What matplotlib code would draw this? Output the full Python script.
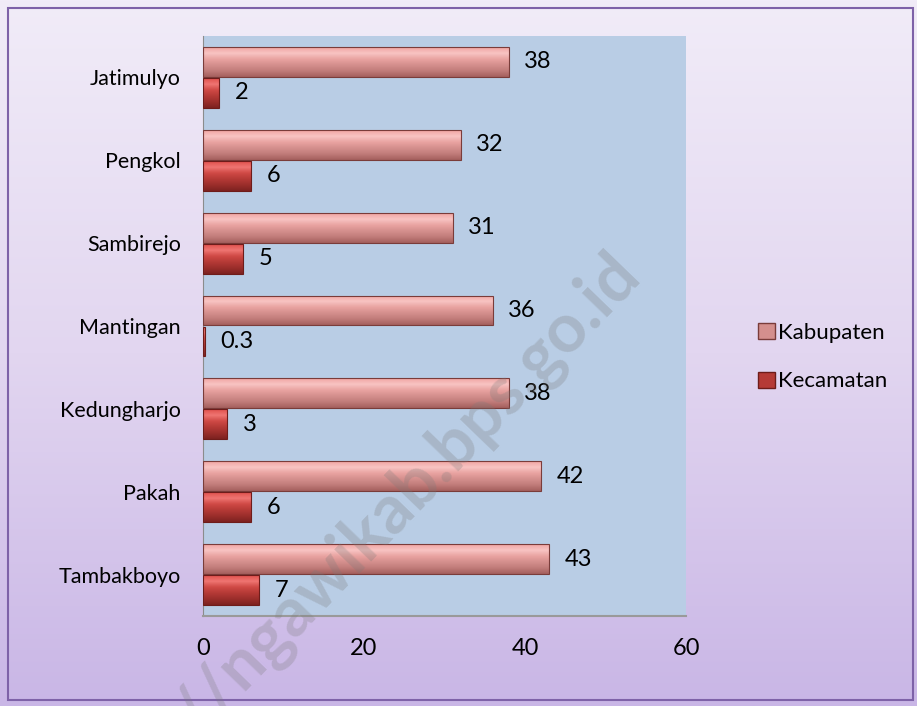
import numpy as np
import matplotlib.pyplot as plt
from matplotlib.colors import LinearSegmentedColormap
from matplotlib.patches import Patch, Rectangle

plt.rcParams['font.family'] = ['Lato', 'DejaVu Sans']

# data (bottom to top)
desa = ['Tambakboyo', 'Pakah', 'Kedungharjo', 'Mantingan', 'Sambirejo', 'Pengkol', 'Jatimulyo']
kabupaten = [43, 42, 38, 36, 31, 32, 38]
kecamatan = [7, 6, 3, 0.3, 5, 6, 2]
kab_lbl = ['43', '42', '38', '36', '31', '32', '38']
kec_lbl = ['7', '6', '3', '0.3', '5', '6', '2']

W, H = 917, 706
fig = plt.figure(figsize=(W / 100, H / 100), dpi=100)

# figure background gradient + border
bg = fig.add_axes([0, 0, 1, 1], zorder=-10)
bg_cmap = LinearSegmentedColormap.from_list('bg', ['#f1ecf8', '#e2d6f0', '#c9b6e6'])
bg.imshow(np.linspace(0, 1, 256).reshape(-1, 1), cmap=bg_cmap, aspect='auto',
          extent=(0, 1, 0, 1))
bg.add_patch(Rectangle((8 / W, 6 / H), 905 / W, 692 / H, fill=False,
                       edgecolor='#7e62a8', lw=1.5))
bg.set_xlim(0, 1)
bg.set_ylim(0, 1)
bg.axis('off')

ax = fig.add_axes([203 / W, 90 / H, 483 / W, 580 / H])
ax.set_facecolor('#b9cde5')

y = np.arange(len(desa))
h = 0.36
off = 0.187

kab_cmap = LinearSegmentedColormap.from_list(
    'kab', ['#a45f5d', '#c17c7a', '#d48f8d', '#e9a3a1', '#f8c4c3', '#f0a4a2'])
kec_cmap = LinearSegmentedColormap.from_list(
    'kec', ['#7d2220', '#9b2e2b', '#b53a36', '#cf4945', '#ef7572', '#e0504c'])


def shade(bars, cmap):
    grad = np.linspace(0, 1, 64).reshape(-1, 1)
    for b in bars:
        x0, y0 = b.get_x(), b.get_y()
        im = ax.imshow(grad, cmap=cmap, aspect='auto', origin='lower',
                       extent=(x0, x0 + b.get_width(), y0, y0 + b.get_height()),
                       zorder=2)
        im.set_clip_path(b)


b1 = ax.barh(y + off, kabupaten, height=h, color='#d48f8d', edgecolor='#7a3c3a',
             lw=0.8, zorder=3)
b2 = ax.barh(y - off, kecamatan, height=h, color='#b53a36', edgecolor='#6e1c1a',
             lw=0.8, zorder=3)
for b in list(b1) + list(b2):
    b.set_facecolor('none')
shade(b1, kab_cmap)
shade(b2, kec_cmap)

for i in range(len(desa)):
    ax.annotate(kab_lbl[i], (kabupaten[i], y[i] + off), xytext=(11, 0),
                textcoords='offset points', va='center', ha='left', fontsize=17)
    ax.annotate(kec_lbl[i], (kecamatan[i], y[i] - off), xytext=(11, 0),
                textcoords='offset points', va='center', ha='left', fontsize=17)

ax.set_xlim(0, 60)
ax.set_ylim(-0.5, len(desa) - 0.5)
ax.set_xticks([0, 20, 40, 60])
ax.set_yticks(y)
ax.set_yticklabels(desa, fontsize=15.5)
ax.tick_params(axis='x', labelsize=17, length=0, pad=16)
ax.tick_params(axis='y', length=0, pad=16)
for s in ['top', 'right']:
    ax.spines[s].set_visible(False)
ax.spines['left'].set_color('#8c8c8c')
ax.spines['bottom'].set_color('#9a9a9a')
ax.spines['bottom'].set_linewidth(1.5)

handles = [Patch(facecolor='#d48f8d', edgecolor='#7a3c3a', label='Kabupaten'),
           Patch(facecolor='#b53a36', edgecolor='#6e1c1a', label='Kecamatan')]
fig.legend(handles=handles, loc='center left', bbox_to_anchor=(738 / W, 1 - 357 / H),
           frameon=False, fontsize=16, handlelength=0.75, handleheight=0.75,
           handletextpad=0.15, labelspacing=1.3)

# watermark
fig.text(630 / W, 1 - 266 / H, '//ngawikab.bps.go.id', fontsize=49,
         fontweight='bold', color='#7a7a7a', alpha=0.27, rotation=46,
         ha='right', va='center', rotation_mode='anchor', zorder=10)

fig.savefig('out.png', dpi=100)
